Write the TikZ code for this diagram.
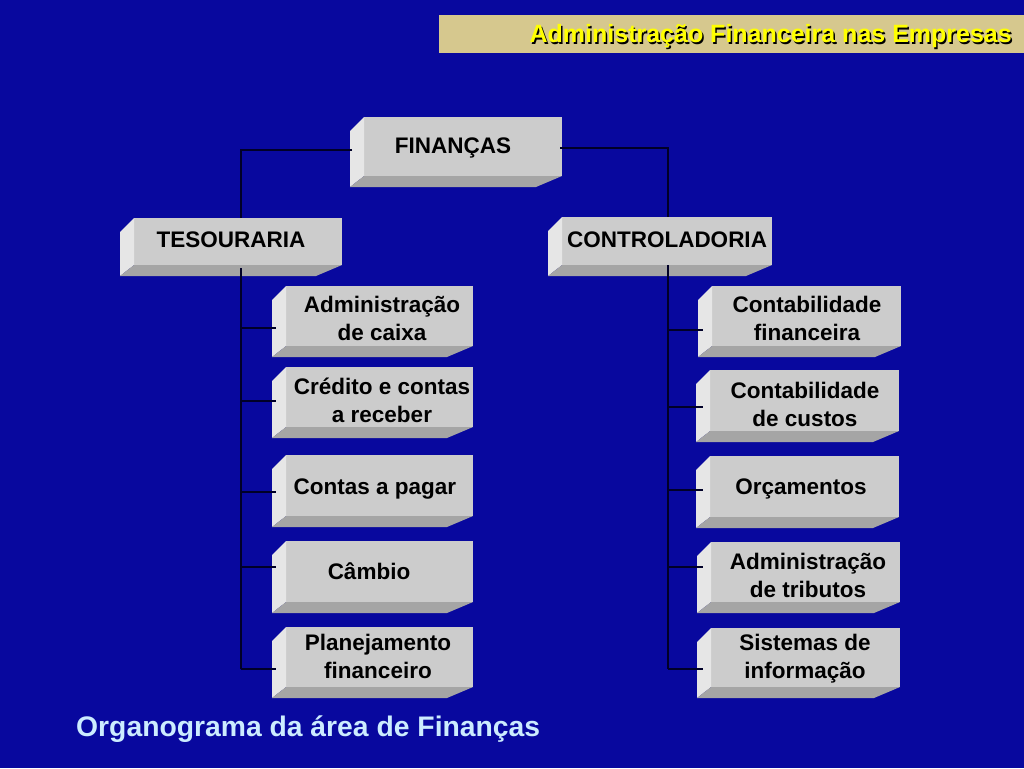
\documentclass[tikz,border=0pt]{standalone}
\usepackage{fontspec}
\setmainfont{Liberation Sans}
\usetikzlibrary{calc}
\definecolor{bgblue}{RGB}{8,8,158}
\definecolor{connc}{RGB}{0,0,40}
\definecolor{facec}{RGB}{204,204,204}
\definecolor{leftc}{RGB}{230,230,230}
\definecolor{botc}{RGB}{165,165,165}
\definecolor{tanc}{RGB}{214,200,142}
\definecolor{hdryellow}{RGB}{255,255,0}
\definecolor{titlec}{RGB}{204,236,255}
\tikzset{
  conn/.style={draw=connc, line width=2pt},
  boxnode/.style={inner sep=0pt, outer sep=0pt, draw=none},
  boxtext/.style={inner sep=0pt, anchor=base, text=black, font=\bfseries\fontsize{22.5}{28}\selectfont},
}
\newcommand{\twoline}[2]{\begin{tabular}[t]{@{}c@{}}#1\\#2\end{tabular}}
% name, x1, y1, x2, y2, text x, text baseline y, text
\newcommand{\bevbox}[8]{%
  \fill[facec] (#2+14,#3) rectangle (#4,#5-11);
  \fill[leftc] (#2,#3+14) -- (#2+14,#3) -- (#2+14,#5-11) -- (#2,#5) -- cycle;
  \fill[botc] (#2+14,#5-11) -- (#4,#5-11) -- (#4-26,#5) -- (#2,#5) -- cycle;
  \node[boxnode, minimum width={(#4-#2)*1pt}, minimum height={(#5-#3)*1pt}] (#1) at ({(#2+#4)/2},{(#3+#5)/2}) {};
  \node[boxtext] (#1t) at (#6,#7) {#8};
}
\begin{document}
\begin{tikzpicture}[x=1pt,y=-1pt]
\useasboundingbox (0,0) rectangle (1024,768);
\fill[bgblue] (0,0) rectangle (1024,768);
% header
\fill[tanc] (439,15) rectangle (1024,53);
\node[inner sep=0pt, anchor=base east, text=black, font=\bfseries\fontsize{25}{30}\selectfont] (hdrsh) at (1013.5,44.5) {Administração Financeira nas Empresas};
\node[inner sep=0pt, anchor=base east, text=hdryellow, font=\bfseries\fontsize{25}{30}\selectfont] (hdr) at (1012,43) {Administração Financeira nas Empresas};
% trunk x positions
\coordinate (tL) at (241,0);
\coordinate (tR) at (668,0);
% boxes
\bevbox{fin}{350}{117}{562}{187}{453}{153}{FINANÇAS}
\bevbox{tes}{120}{218}{342}{276}{231}{247}{TESOURARIA}
\bevbox{ctl}{548}{217}{772}{276}{667}{247}{CONTROLADORIA}
\bevbox{L1}{272}{286}{473}{357}{382}{312}{\twoline{Administração}{de caixa}}
\bevbox{L2}{272}{367}{473}{438}{382}{394}{\twoline{Crédito e contas}{a receber}}
\bevbox{L3}{272}{455}{473}{527}{375}{494}{Contas a pagar}
\bevbox{L4}{272}{541}{473}{613}{369}{579}{Câmbio}
\bevbox{L5}{272}{627}{473}{698}{378}{650}{\twoline{Planejamento}{financeiro}}
\bevbox{R1}{698}{286}{901}{357}{807}{312}{\twoline{Contabilidade}{financeira}}
\bevbox{R2}{696}{370}{899}{442}{805}{398}{\twoline{Contabilidade}{de custos}}
\bevbox{R3}{696}{456}{899}{528}{801}{494}{Orçamentos}
\bevbox{R4}{697}{542}{900}{613}{808}{569}{\twoline{Administração}{de tributos}}
\bevbox{R5}{697}{628}{900}{698}{805}{650}{\twoline{Sistemas de}{informação}}
% branch points
\coordinate (bL1) at ([shift={(4,6.5)}]L1.west);
\coordinate (bL2) at ([shift={(4,-1.5)}]L2.west);
\coordinate (bL3) at ([shift={(4,1)}]L3.west);
\coordinate (bL4) at ([shift={(4,-10)}]L4.west);
\coordinate (bL5) at ([shift={(4,6.5)}]L5.west);
\coordinate (bR1) at ([shift={(5,8.5)}]R1.west);
\coordinate (bR2) at ([shift={(7,1)}]R2.west);
\coordinate (bR3) at ([shift={(7,-2)}]R3.west);
\coordinate (bR4) at ([shift={(6,-10.5)}]R4.west);
\coordinate (bR5) at ([shift={(6,6)}]R5.west);
\coordinate (tesb) at ([shift={(0,-8)}]tes.south);
\coordinate (ctlb) at ([shift={(0,-11)}]ctl.south);
% connectors
\draw[conn] ([shift={(2,-2)}]fin.west) -| (tes.north -| tL);
\draw[conn] ([shift={(-2,-4)}]fin.east) -| (ctl.north -| tR);
\draw[conn] (tesb -| tL) -- (bL5 -| tL);
\draw[conn] (ctlb -| tR) -- (bR5 -| tR);
\foreach \b in {bL1,bL2,bL3,bL4,bL5} { \draw[conn] (\b -| tL) -- (\b); }
\foreach \b in {bR1,bR2,bR3,bR4,bR5} { \draw[conn] (\b -| tR) -- (\b); }
% title
\node[inner sep=0pt, anchor=base west, text=titlec, font=\bfseries\fontsize{28.3}{34}\selectfont] (title) at (76,736) {Organograma da área de Finanças};
\end{tikzpicture}
\end{document}
